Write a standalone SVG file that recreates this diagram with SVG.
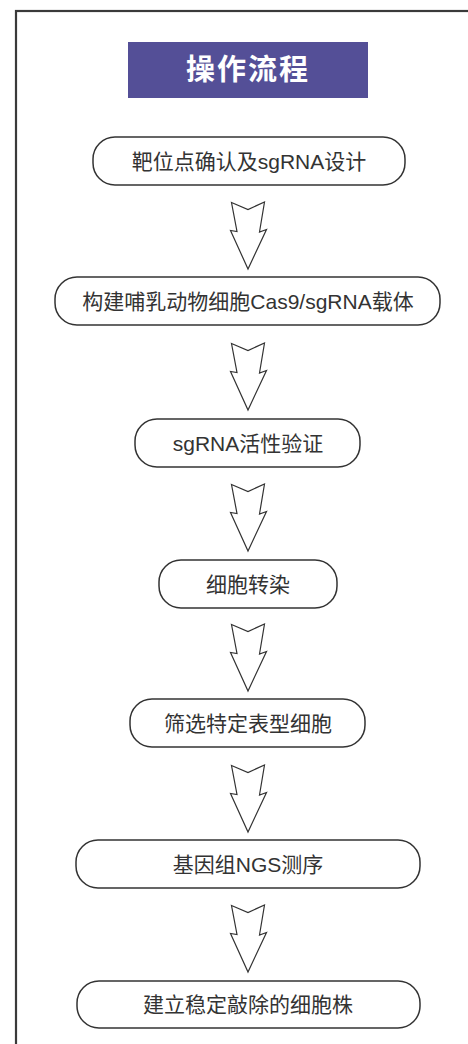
<svg xmlns="http://www.w3.org/2000/svg" width="468" height="1044" viewBox="0 0 468 1044">
  <defs>
    <style>
      .frame { fill: none; stroke: #3a3a3a; stroke-width: 2.2; }
      .step { fill: #ffffff; stroke: #333333; stroke-width: 1.5; }
      .label { font-family: "Liberation Sans", "Noto Sans CJK SC", sans-serif; font-size: 21px; fill: #333333; text-anchor: middle; }
      .title-bg { fill: #544f97; }
      .title { font-family: "Noto Sans CJK SC", sans-serif; font-size: 29px; font-weight: bold; fill: #ffffff; text-anchor: middle; letter-spacing: 2px; }
      .flow { fill: #ffffff; stroke: #333333; stroke-width: 1.2; stroke-linejoin: miter; }
    </style>
    <!-- notched down-arrow, origin at the top centre -->
    <polygon id="down-arrow" class="flow" points="-16.5,0.5 0,7.5 16.5,0 11.5,30 18.5,27.5 0,67 -17.5,28.5 -11,29.5"/>
  </defs>

  <!-- outer frame (right and bottom edges lie beyond the page) -->
  <rect class="frame" x="16" y="11" width="480" height="1060"/>

  <g id="title">
    <rect class="title-bg" x="128" y="42" width="240" height="56"/>
    <text class="title" x="248" y="80">操作流程</text>
  </g>

  <g id="connectors">
    <use href="#down-arrow" x="248" y="202"/>
    <use href="#down-arrow" x="248" y="343"/>
    <use href="#down-arrow" x="248" y="484"/>
    <use href="#down-arrow" x="248" y="624"/>
    <use href="#down-arrow" x="248" y="765"/>
    <use href="#down-arrow" x="248" y="905"/>
  </g>

  <g id="step1">
    <rect class="step" x="93" y="137" width="312" height="48" rx="22" ry="22"/>
    <text class="label" x="249" y="168.5">靶位点确认及sgRNA设计</text>
  </g>

  <g id="step2">
    <rect class="step" x="55" y="277" width="385" height="48" rx="22" ry="22"/>
    <text class="label" x="248" y="308.5">构建哺乳动物细胞Cas9/sgRNA载体</text>
  </g>

  <g id="step3">
    <rect class="step" x="135" y="419" width="225" height="48" rx="22" ry="22"/>
    <text class="label" x="248" y="450.5">sgRNA活性验证</text>
  </g>

  <g id="step4">
    <rect class="step" x="159" y="560" width="178" height="48" rx="22" ry="22"/>
    <text class="label" x="248" y="591.5">细胞转染</text>
  </g>

  <g id="step5">
    <rect class="step" x="130" y="699" width="235" height="48" rx="22" ry="22"/>
    <text class="label" x="248" y="730.5">筛选特定表型细胞</text>
  </g>

  <g id="step6">
    <rect class="step" x="76" y="840" width="344" height="48" rx="22" ry="22"/>
    <text class="label" x="248" y="871.5">基因组NGS测序</text>
  </g>

  <g id="step7">
    <rect class="step" x="77" y="981" width="343" height="47" rx="22" ry="22"/>
    <text class="label" x="248" y="1012">建立稳定敲除的细胞株</text>
  </g>
</svg>
